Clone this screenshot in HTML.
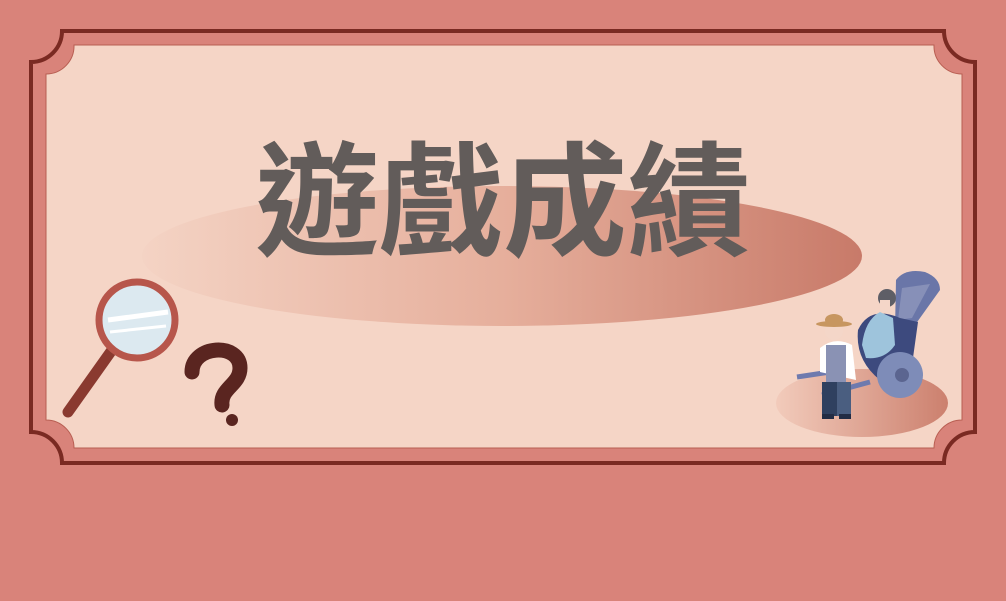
<!DOCTYPE html>
<html><head><meta charset="utf-8"><style>
html,body{margin:0;padding:0;background:#d9837a;}
svg{display:block}
</style></head><body>
<svg width="1006" height="601" viewBox="0 0 1006 601">
<defs>
<linearGradient id="eg" x1="0" x2="1" y1="0" y2="0">
<stop offset="0" stop-color="#f4d3c4"/><stop offset="0.5" stop-color="#e6af9c"/><stop offset="1" stop-color="#c87a69"/>
</linearGradient>
<linearGradient id="sg" x1="0" x2="1"><stop offset="0" stop-color="#f2cbbb"/><stop offset="1" stop-color="#cc806e"/></linearGradient>
</defs>
<rect width="1006" height="601" fill="#d9837a"/>
<path d="M31,62 A31,31 0 0 0 62,31 L944,31 A31,31 0 0 0 975,62 L975,432 A31,31 0 0 0 944,463 L62,463 A31,31 0 0 0 31,432 Z" fill="none" stroke="#7a2a22" stroke-width="4"/>
<path d="M46,74 A28,28 0 0 0 74,45 L934,45 A28,28 0 0 0 962,74 L962,420 A28,28 0 0 0 934,448 L74,448 A28,28 0 0 0 46,420 Z" fill="#f5d5c6" stroke="#b85e52" stroke-width="1"/>
<ellipse cx="502" cy="256" rx="360" ry="70" fill="url(#eg)"/>
<text x="503" y="246" text-anchor="middle" font-family="'Liberation Sans','Noto Sans CJK TC',sans-serif" font-weight="bold" font-size="124" fill="#625c5a">遊戲成績</text>
<g>
<line x1="68" y1="412" x2="112" y2="350" stroke="#8a3a30" stroke-width="11" stroke-linecap="round"/>
<circle cx="137" cy="320" r="38" fill="#dce9f0" stroke="#b7564b" stroke-width="7"/>
<line x1="108" y1="320" x2="168" y2="312" stroke="#fff" stroke-width="5"/>
<line x1="110" y1="332" x2="166" y2="326" stroke="#fff" stroke-width="3"/>
</g>
<g fill="none" stroke="#5a2520" stroke-width="15" stroke-linecap="round">
<path d="M192,372 C192,345 240,342 240,368 C240,385 220,388 222,405"/>
<circle cx="232" cy="420" r="6" fill="#5a2520" stroke="none"/>
</g>
<g>
<ellipse cx="862" cy="403" rx="86" ry="34" fill="url(#sg)"/>
<path d="M896,280 Q905,268 925,272 Q940,278 940,290 L915,325 L895,330 Z" fill="#6a76a8"/>
<path d="M902,288 L930,284 L912,318 L898,320 Z" fill="#8790b8"/>
<path d="M858,330 Q870,305 900,318 L918,322 L912,365 L880,380 Q855,360 858,330 Z" fill="#3d4a7e"/>
<path d="M862,345 Q865,320 880,312 L893,318 L895,345 Q885,360 866,358 Z" fill="#9ec4dc"/>
<circle cx="887" cy="298" r="9" fill="#5e5e66"/>
<rect x="880" y="300" width="10" height="12" fill="#f4d6c8"/>
<circle cx="900" cy="375" r="23" fill="#7e8cb8"/>
<circle cx="902" cy="375" r="7" fill="#5b6590"/>
<line x1="797" y1="377" x2="830" y2="372" stroke="#6e7aae" stroke-width="5"/>
<line x1="822" y1="395" x2="870" y2="382" stroke="#6e7aae" stroke-width="5"/>
<path d="M820,348 Q835,336 852,345 L856,380 L820,372 Z" fill="#fff"/>
<rect x="826" y="345" width="20" height="38" fill="#8a92b4"/>
<rect x="822" y="382" width="15" height="34" fill="#2f405f"/>
<rect x="837" y="382" width="14" height="34" fill="#4a5e80"/>
<rect x="822" y="414" width="12" height="5" fill="#222c44"/>
<rect x="839" y="414" width="12" height="5" fill="#222c44"/>
<circle cx="834" cy="331" r="9" fill="#f4d6c8"/>
<ellipse cx="834" cy="324" rx="18" ry="3" fill="#c79660"/>
<ellipse cx="834" cy="320" rx="9" ry="6" fill="#c79660"/>
</g>
</svg>
</body></html>
